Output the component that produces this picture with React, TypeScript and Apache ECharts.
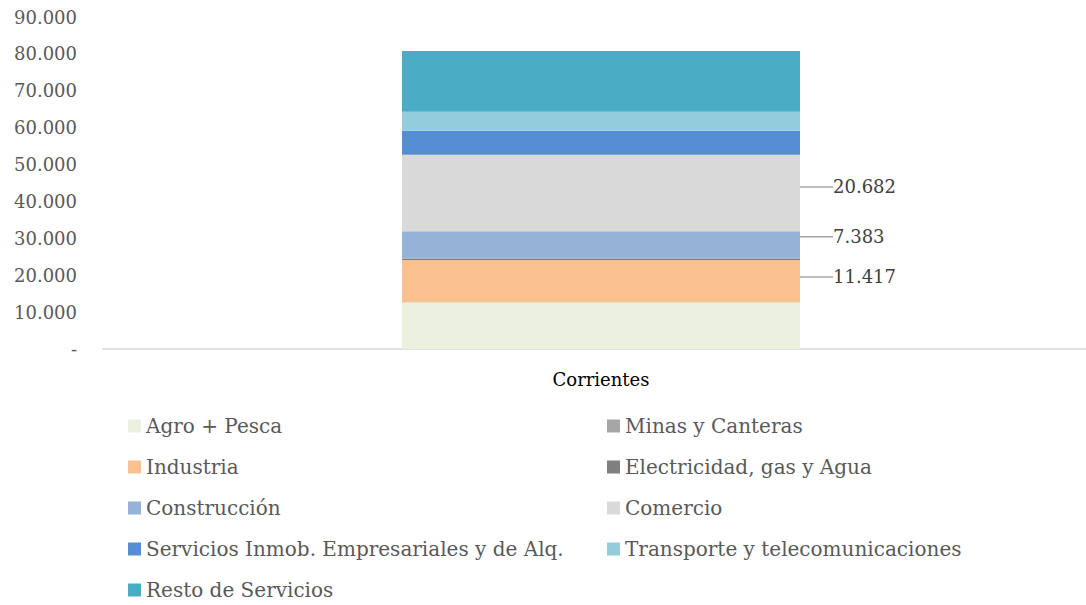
import React, { useEffect, useRef } from "react";
import * as echarts from "echarts";

const categories = ["Corrientes"];
const sectorNames = [
  "Agro + Pesca",
  "Minas y Canteras",
  "Industria",
  "Electricidad, gas y Agua",
  "Construcción",
  "Comercio",
  "Servicios Inmob. Empresariales y de Alq.",
  "Transporte y telecomunicaciones",
  "Resto de Servicios",
];
const sectorValues = [12650, 80, 11417, 420, 7383, 20682, 6500, 5150, 16500];
const sectorColors = [
  "#EBF1DE",
  "#A6A6A6",
  "#FAC090",
  "#7F7F7F",
  "#95B3D7",
  "#D9D9D9",
  "#558ED5",
  "#93CDDD",
  "#4BACC6",
];
const labelledSectors = ["Industria", "Construcción", "Comercio"];
const labelOffsets: Record<string, number> = { Industria: -4, "Construcción": -8, Comercio: -6 };
const leftLegend = [
  "Agro + Pesca",
  "Industria",
  "Construcción",
  "Servicios Inmob. Empresariales y de Alq.",
  "Resto de Servicios",
];
const rightLegend = [
  "Minas y Canteras",
  "Electricidad, gas y Agua",
  "Comercio",
  "Transporte y telecomunicaciones",
];

const fmt = (v: number) =>
  v === 0 ? "-" : String(Math.round(v)).replace(/\B(?=(\d{3})+(?!\d))/g, ".");

const FONT = "DejaVu Serif";

export default function App() {
  const ref = useRef<HTMLDivElement>(null);
  useEffect(() => {
    const chart = echarts.init(ref.current!, null, { renderer: "svg" });
    const series = sectorNames.map((name, i) => {
      const labelled = labelledSectors.includes(name);
      return {
        name,
        type: "bar",
        stack: "total",
        barWidth: 398,
        data: [sectorValues[i]],
        itemStyle: { color: sectorColors[i] },
        label: labelled
          ? {
              show: true,
              position: "right",
              distance: 4,
              formatter: (p: any) => fmt(p.value),
              fontFamily: FONT,
              fontSize: 18,
              color: "#404040",
              padding: [0, 0, 0, 14],
            }
          : { show: false },
        labelLayout: labelled ? { dx: 15, dy: labelOffsets[name] } : undefined,
        labelLine: labelled
          ? { show: true, lineStyle: { color: "#A6A6A6", width: 1.5 } }
          : undefined,
      };
    });
    const legendText = { fontFamily: FONT, fontSize: 20, color: "#595959" };
    chart.setOption({
      animation: false,
      grid: { left: 103, right: 0, top: 17, bottom: 256, containLabel: false },
      xAxis: {
        type: "category",
        data: categories,
        axisLine: { lineStyle: { color: "#D9D9D9", width: 1.5 } },
        axisTick: { show: false },
        axisLabel: { fontFamily: FONT, fontSize: 18, color: "#000", margin: 21 },
      },
      yAxis: {
        type: "value",
        min: 0,
        max: 90000,
        interval: 10000,
        splitLine: { show: false },
        axisLine: { show: false },
        axisTick: { show: false },
        axisLabel: {
          formatter: fmt,
          fontFamily: FONT,
          fontSize: 18,
          color: "#595959",
          margin: 26,
        },
      },
      legend: [
        {
          orient: "vertical",
          left: 128,
          top: 416,
          padding: 0,
          itemWidth: 13,
          itemHeight: 13,
          itemGap: 21,
          icon: "rect",
          data: leftLegend,
          textStyle: legendText,
        },
        {
          orient: "vertical",
          left: 607,
          top: 416,
          padding: 0,
          itemWidth: 13,
          itemHeight: 13,
          itemGap: 21,
          icon: "rect",
          data: rightLegend,
          textStyle: legendText,
        },
      ],
      series,
    });
    return () => chart.dispose();
  }, []);
  return (
    <div
      ref={ref}
      style={{ position: "fixed", left: 0, top: 0, width: 1099, height: 605, background: "#fff" }}
    />
  );
}
